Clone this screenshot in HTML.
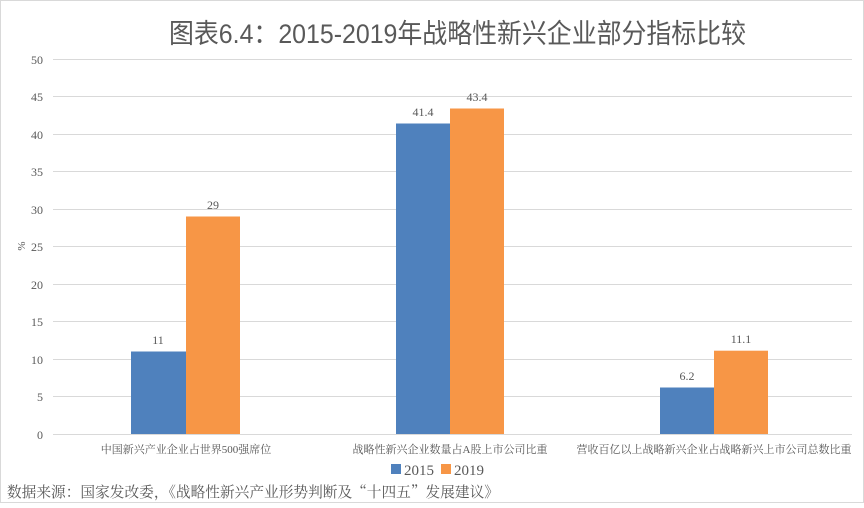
<!DOCTYPE html>
<html><head><meta charset="utf-8"><style>
body{margin:0;width:864px;height:503px;background:#fff;overflow:hidden}
svg text{font-family:"Liberation Serif","Noto Serif CJK SC",serif;fill:#595959}
</style></head><body>
<svg width="864" height="503" xmlns="http://www.w3.org/2000/svg">
<rect x="0.5" y="0.5" width="863" height="502" fill="#fff" stroke="#d9d9d9"/>
<text x="169" y="43" font-size="27" textLength="577" lengthAdjust="spacingAndGlyphs" style="font-family:'Liberation Sans','Noto Sans CJK SC',sans-serif" fill="#595959">图表6.4：2015-2019年战略性新兴企业部分指标比较</text>
<g stroke="#d9d9d9" stroke-width="1">
<line x1="53" x2="852" y1="59.5" y2="59.5"/>
<line x1="53" x2="852" y1="96.5" y2="96.5"/>
<line x1="53" x2="852" y1="134.5" y2="134.5"/>
<line x1="53" x2="852" y1="171.5" y2="171.5"/>
<line x1="53" x2="852" y1="209.5" y2="209.5"/>
<line x1="53" x2="852" y1="246.5" y2="246.5"/>
<line x1="53" x2="852" y1="284.5" y2="284.5"/>
<line x1="53" x2="852" y1="321.5" y2="321.5"/>
<line x1="53" x2="852" y1="359.5" y2="359.5"/>
<line x1="53" x2="852" y1="396.5" y2="396.5"/>
<line x1="53" x2="852" y1="434.5" y2="434.5"/>
</g>
<g font-size="12" text-anchor="end">
<text x="43" y="64">50</text><text x="43" y="101">45</text><text x="43" y="139">40</text><text x="43" y="176">35</text><text x="43" y="214">30</text><text x="43" y="251">25</text><text x="43" y="289">20</text><text x="43" y="326">15</text><text x="43" y="364">10</text><text x="43" y="401">5</text><text x="43" y="439">0</text>
</g>
<text x="0" y="0" font-size="11" transform="translate(25,246) rotate(-90)" text-anchor="middle">%</text>
<g fill="#4f81bd">
<rect x="131" y="351.5" width="55" height="82.5"/>
<rect x="396" y="123.5" width="54" height="310.5"/>
<rect x="660" y="387.5" width="54" height="46.5"/>
</g>
<g fill="#f79646">
<rect x="186" y="216.5" width="54" height="217.5"/>
<rect x="450" y="108.5" width="54" height="325.5"/>
<rect x="714" y="350.7" width="54" height="83.3"/>
</g>
<g font-size="12" text-anchor="middle">
<text x="158" y="344">11</text><text x="213" y="209">29</text>
<text x="423" y="116">41.4</text><text x="477" y="101">43.4</text>
<text x="687" y="380">6.2</text><text x="741" y="343">11.1</text>
</g>
<g font-size="11" text-anchor="middle" style="font-family:'Liberation Sans','Noto Sans CJK SC',sans-serif">
<text x="186" y="453">中国新兴产业企业占世界500强席位</text>
<text x="450" y="453">战略性新兴企业数量占A股上市公司比重</text>
<text x="714" y="453">营收百亿以上战略新兴企业占战略新兴上市公司总数比重</text>
</g>
<rect x="391" y="464" width="10" height="10" fill="#4f81bd"/>
<text x="404" y="475" font-size="15">2015</text>
<rect x="441" y="464" width="10" height="10" fill="#f79646"/>
<text x="454" y="475" font-size="15">2019</text>
<text x="7" y="497" font-size="15" textLength="492" lengthAdjust="spacingAndGlyphs" fill="#222" style="font-family:'Noto Serif CJK SC',serif">数据来源：国家发改委，《战略性新兴产业形势判断及“十四五”发展建议》</text>
</svg>
</body></html>
